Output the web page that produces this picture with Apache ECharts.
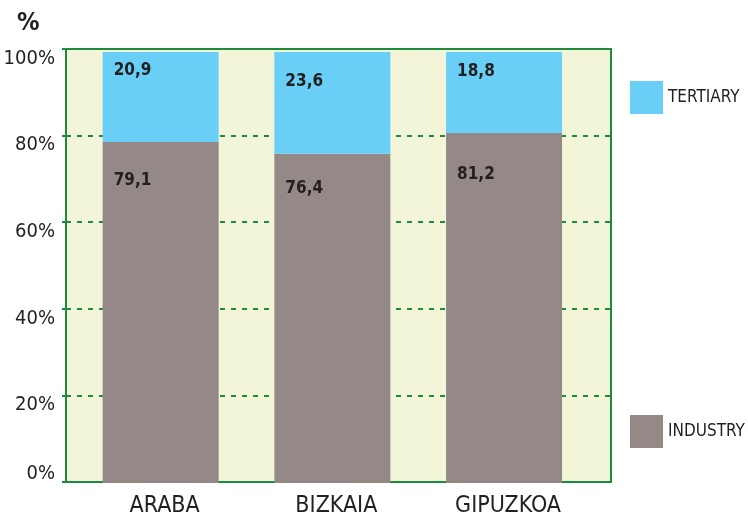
<!DOCTYPE html>
<html>
<head>
<meta charset="utf-8">
<script src="https://cdn.jsdelivr.net/npm/echarts@6/dist/echarts.min.js"></script>
<style>
  html, body { margin: 0; padding: 0; background: #ffffff; }
  #chart { width: 748px; height: 514px; }
</style>
</head>
<body>
<div id="chart"></div>
<script>
// Share of employment by sector in each province (%)
const provinces = ['ARABA', 'BIZKAIA', 'GIPUZKOA'];
const industry = [79.1, 76.4, 81.2];
const tertiary = [20.9, 23.6, 18.8];
const yTicks = [0, 20, 40, 60, 80, 100];

// Label placement inside each segment (styling only)
const industryLabelPos = [[11, 30], [11, 26], [11, 33]];
const tertiaryLabelPos = [[11, 10], [11, 21], [11, 11]];

const FONT = '"DejaVu Sans Condensed", "Liberation Sans Narrow", sans-serif';
const INK = '#231f20';
const GREEN = '#1e8a3e';
const fmt = v => v.toFixed(1).replace('.', ',');

function items(values, positions) {
  return values.map((v, i) => ({
    value: v,
    label: { position: positions[i] }
  }));
}

const chart = echarts.init(document.getElementById('chart'), null, { renderer: 'canvas' });

const segLabel = {
  show: true,
  formatter: p => fmt(p.value),
  fontFamily: FONT,
  fontWeight: 'bold',
  fontSize: 17,
  color: INK
};

chart.setOption({
  animation: false,
  backgroundColor: '#ffffff',
  textStyle: { fontFamily: FONT },
  grid: [
    {
      // plot frame with gridlines
      left: 66, top: 49, right: 137, bottom: 32,
      show: true,
      backgroundColor: '#f2f5d7',
      borderColor: GREEN,
      borderWidth: 2,
      containLabel: false,
      outerBoundsMode: 'none'
    },
    {
      // bars
      left: 74.8, top: 52, right: 158.1, bottom: 31,
      containLabel: false,
      outerBoundsMode: 'none'
    }
  ],
  xAxis: [
    { gridIndex: 0, type: 'value', show: false, min: 0, max: 1 },
    {
      gridIndex: 1,
      type: 'category',
      data: provinces,
      axisLine: { show: false },
      axisTick: { show: false },
      axisLabel: {
        margin: 12,
        fontFamily: FONT,
        fontSize: 23,
        color: INK,
        padding: [0, 0, 0, 8]
      }
    }
  ],
  yAxis: [
    {
      gridIndex: 0,
      type: 'value',
      min: yTicks[0],
      max: yTicks[yTicks.length - 1],
      interval: yTicks[1] - yTicks[0],
      axisLine: { show: true, lineStyle: { color: GREEN, width: 2 } },
      axisTick: { show: true, inside: false, length: 4, lineStyle: { color: GREEN, width: 2 } },
      splitLine: { show: true, lineStyle: { color: GREEN, width: 2, type: [5, 6] } },
      axisLabel: {
        margin: 11,
        formatter: v => (v === 0 ? '{z|0%}' : '{n|' + v + '%}'),
        rich: {
          n: { fontFamily: FONT, fontSize: 20, color: INK, padding: [19, 0, 0, 0] },
          z: { fontFamily: FONT, fontSize: 20, color: INK, padding: [0, 0, 16, 0] }
        }
      }
    },
    { gridIndex: 1, type: 'value', min: 0, max: 100, show: false, splitLine: { show: false } }
  ],
  legend: {
    orient: 'vertical',
    left: 630,
    top: 81,
    padding: 0,
    itemWidth: 33,
    itemHeight: 33,
    itemGap: 301,
    icon: 'rect',
    data: ['TERTIARY', 'INDUSTRY'],
    textStyle: { fontFamily: FONT, fontSize: 17, color: INK }
  },
  graphic: [
    {
      type: 'text',
      left: 17,
      top: 11,
      style: { text: '%', font: 'bold 25px ' + FONT, fill: INK }
    }
  ],
  series: [
    {
      name: 'INDUSTRY',
      type: 'bar',
      stack: 'total',
      xAxisIndex: 1,
      yAxisIndex: 1,
      barWidth: 116,
      itemStyle: { color: '#948986' },
      label: segLabel,
      data: items(industry, industryLabelPos)
    },
    {
      name: 'TERTIARY',
      type: 'bar',
      stack: 'total',
      xAxisIndex: 1,
      yAxisIndex: 1,
      barWidth: 116,
      itemStyle: { color: '#69cff6' },
      label: segLabel,
      data: items(tertiary, tertiaryLabelPos)
    }
  ]
});
</script>
</body>
</html>
